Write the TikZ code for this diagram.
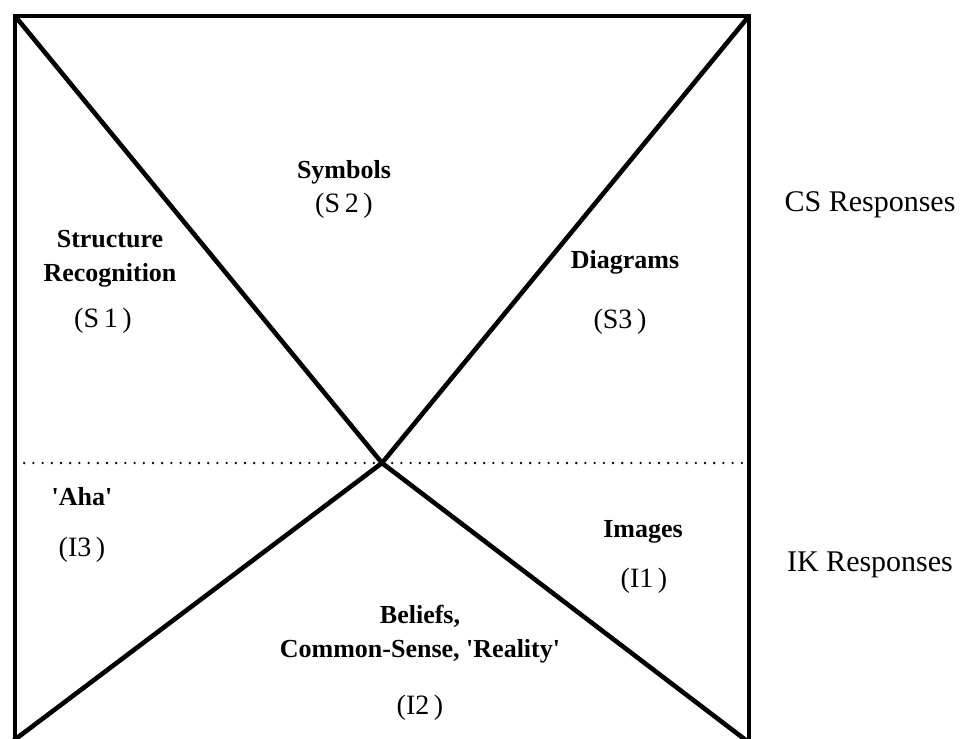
\documentclass[tikz,border=0pt]{standalone}
\usepackage{fontspec}
\setmainfont{Liberation Serif}
\newcommand{\sq}{\textquotesingle}
\begin{document}
\begin{tikzpicture}[x=0.5pt,y=-0.5pt,
  lbl/.style={font=\fontsize{13}{16}\selectfont\bfseries, inner sep=0pt, align=center},
  tag/.style={font=\fontsize{14}{16}\selectfont, inner sep=0pt, align=center},
  side/.style={font=\fontsize{15}{17}\selectfont, inner sep=0pt},
  frame/.style={line width=2pt, line cap=rect},
  diag/.style={line width=2.3pt},
  divider/.style={line width=1.3pt, line cap=round, dash pattern=on 0pt off 4.6pt}]
\useasboundingbox (0,0) rectangle (964,739);
\begin{scope}
\clip (0,0) rectangle (964,739);
\coordinate (TL) at (15,16);
\coordinate (TR) at (749,16);
\coordinate (BL) at (15,745);
\coordinate (BR) at (749,745);
\coordinate (C) at (382,463);
\coordinate (DL) at (15,463);
\coordinate (DR) at (749,463);
\coordinate (EBL) at (13,741);
\coordinate (EBR) at (747,741);
\draw[frame] (BL) -- (TL) -- (TR) -- (BR);
\draw[diag] (TL) -- (C) -- (EBR);
\draw[diag] (TR) -- (C) -- (EBL);
\draw[divider] (DL) -- (DR);
\end{scope}
\node[lbl] (sym) at (344,172) {Symbols};
\node[tag] (s2) at (344,206) {(S\,2\,)};
\node[lbl] (str) at (110,259) {Structure\\[1pt]Recognition};
\node[tag] (s1) at (103,321) {(S\,1\,)};
\node[lbl] (dia) at (625,262) {Diagrams};
\node[tag] (s3) at (620,322) {(S3\,)};
\node[side] (cs) at (870,205) {CS Responses};
\node[lbl] (aha) at (82,497) {\sq Aha\sq};
\node[tag] (i3) at (82,550) {(I3\,)};
\node[lbl] (img) at (643,532) {Images};
\node[tag] (i1) at (644,581) {(I1\,)};
\node[lbl] (bel) at (420,634) {Beliefs,\\[1pt]Common-Sense, \sq Reality\sq};
\node[tag] (i2) at (420,708) {(I2\,)};
\node[side] (ik) at (870,565) {IK Responses};
\end{tikzpicture}
\end{document}
